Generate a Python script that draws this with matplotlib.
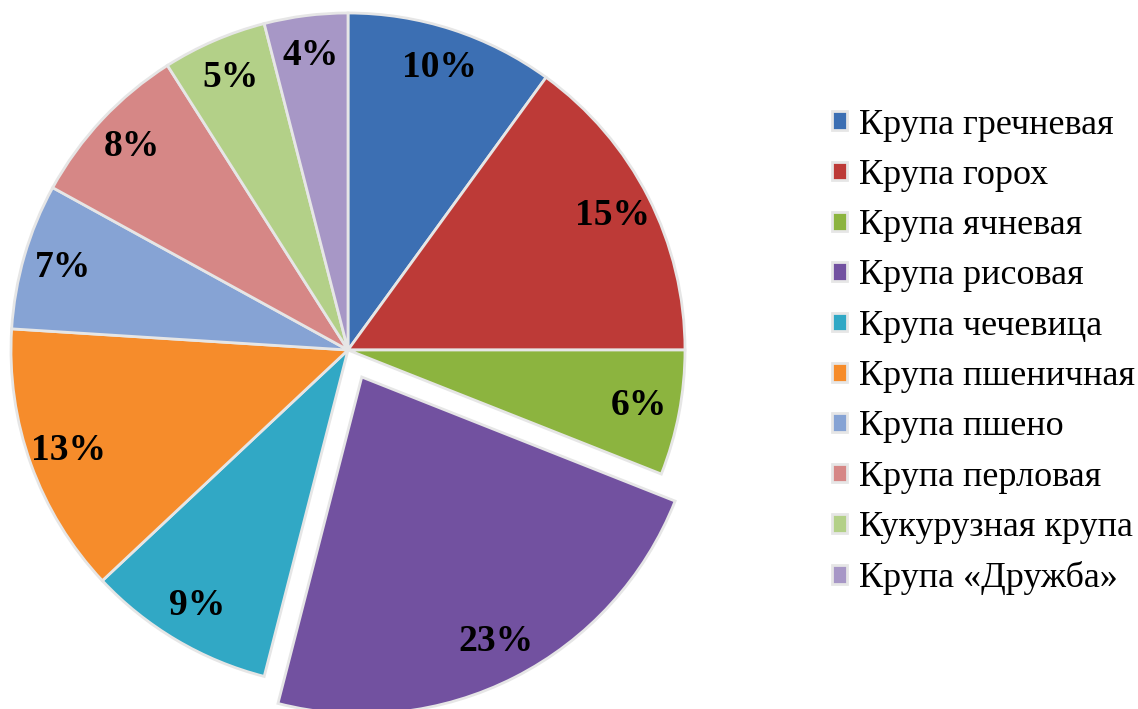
import matplotlib
matplotlib.use('Agg')
import matplotlib.pyplot as plt

plt.rcParams['font.family'] = ['Liberation Serif', 'DejaVu Serif']

labels = ["Крупа гречневая", "Крупа горох", "Крупа ячневая", "Крупа рисовая",
          "Крупа чечевица", "Крупа пшеничная", "Крупа пшено", "Крупа перловая",
          "Кукурузная крупа", "Крупа «Дружба»"]
shares = [10, 15, 6, 23, 9, 13, 7, 8, 5, 4]
colors = ["#3c6fb3", "#bd3a37", "#8cb43f", "#7251a0", "#31a8c5",
          "#f68c2b", "#86a3d4", "#d68786", "#b3d088", "#a797c6"]
explode = [0, 0, 0, 0.09, 0, 0, 0, 0, 0, 0]

W, H = 1138, 709
cx, cy, r = 348, 350, 337  # pixel centre (from top) and radius

fig = plt.figure(figsize=(W / 100, H / 100), dpi=100)
ax = fig.add_axes([0, 0, 1, 1])

wedges, texts, autotexts = ax.pie(
    shares, colors=colors, explode=explode, startangle=90, counterclock=False,
    autopct='%d%%', pctdistance=0.88,
    wedgeprops=dict(edgecolor='#e6e6e6', linewidth=2),
    textprops=dict(fontsize=27, fontweight='bold', color='black'))

ax.set_xlim(-cx / r, (W - cx) / r)
ax.set_ylim(-(H - cy) / r, cy / r)
ax.set_aspect('auto')
ax.axis('off')

fig.legend(wedges, labels, loc='center left', bbox_to_anchor=(832 / W, 1 - 352 / H),
           frameon=False, fontsize=26, handlelength=0.42, handleheight=0.42,
           handletextpad=0.32, labelspacing=0.48, borderpad=0, borderaxespad=0)

fig.savefig('out.png', dpi=100)
